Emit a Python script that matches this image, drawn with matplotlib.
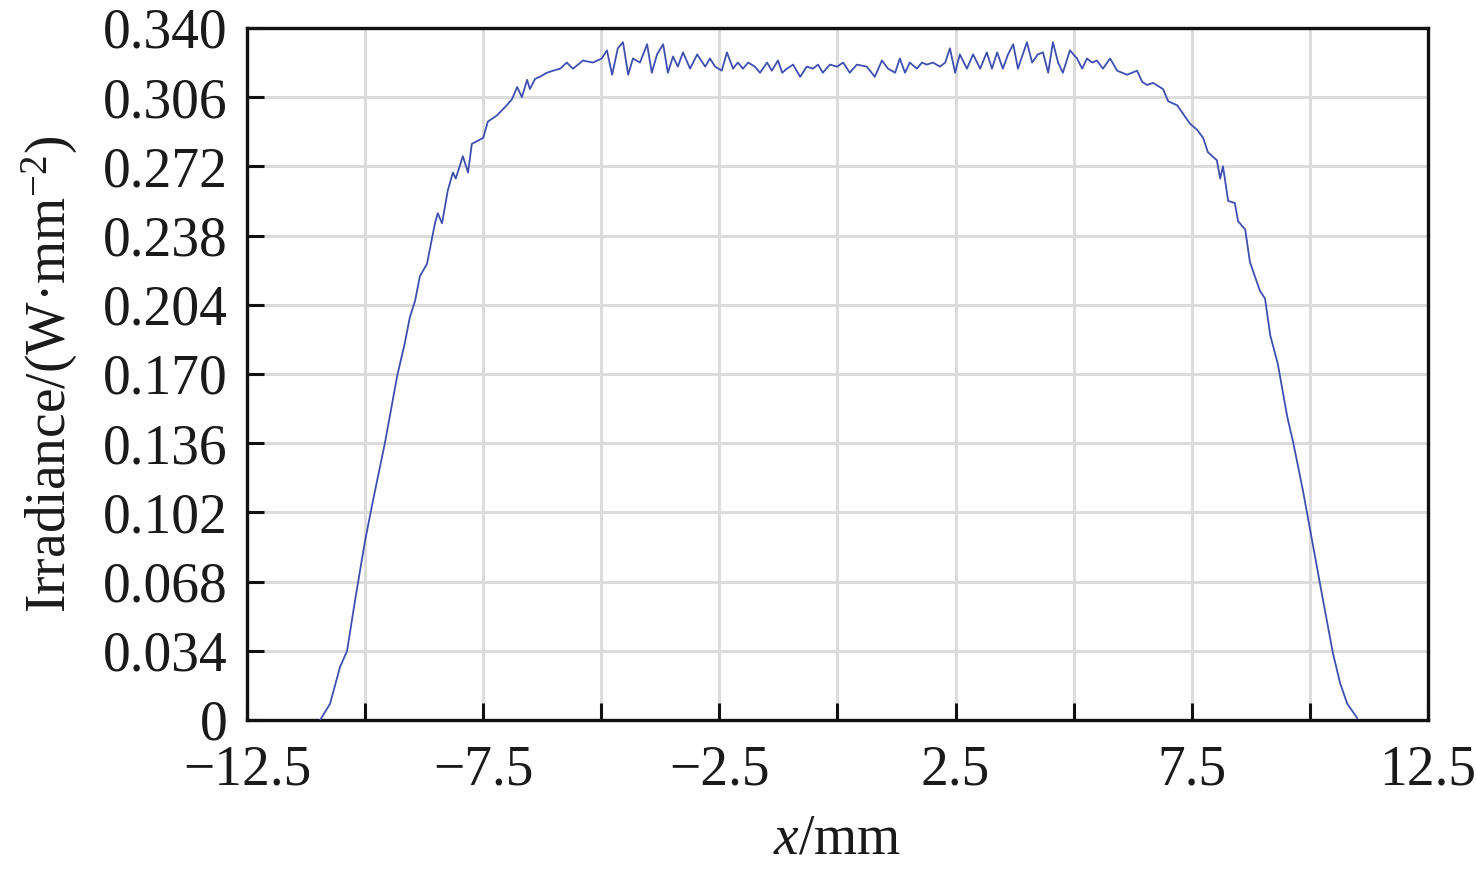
import matplotlib
matplotlib.use("Agg")
import matplotlib.pyplot as plt

# Data
x_mm = [-10.95, -10.74, -10.53, -10.38, -10.21, -10.00, -9.83, -9.58, -9.32, -9.16,
        -9.05, -8.94, -8.84, -8.69, -8.52, -8.46, -8.37, -8.25, -8.14, -8.08,
        -7.93, -7.82, -7.74, -7.50, -7.40, -7.21, -7.00, -6.89, -6.78, -6.68,
        -6.57, -6.51, -6.40, -6.30, -6.15, -6.02, -5.87, -5.73, -5.60, -5.49,
        -5.39, -5.18, -4.99, -4.88, -4.77, -4.65, -4.54, -4.43, -4.33, -4.18,
        -4.03, -3.93, -3.82, -3.69, -3.59, -3.48, -3.38, -3.27, -3.12, -2.97,
        -2.80, -2.70, -2.59, -2.45, -2.34, -2.21, -2.11, -2.00, -1.89, -1.75,
        -1.64, -1.49, -1.39, -1.26, -1.17, -1.07, -0.94, -0.79, -0.65, -0.52,
        -0.41, -0.31, -0.16, -0.01, 0.12, 0.26, 0.41, 0.62, 0.79, 0.94,
        1.07, 1.22, 1.32, 1.43, 1.53, 1.68, 1.79, 1.89, 2.02, 2.17,
        2.28, 2.38, 2.49, 2.59, 2.74, 2.87, 3.02, 3.16, 3.27, 3.38,
        3.50, 3.61, 3.72, 3.82, 4.01, 4.12, 4.24, 4.35, 4.46, 4.56,
        4.67, 4.77, 4.92, 5.07, 5.18, 5.28, 5.39, 5.49, 5.62, 5.77,
        5.92, 6.13, 6.34, 6.45, 6.55, 6.68, 6.89, 7.00, 7.19, 7.46,
        7.61, 7.74, 7.84, 8.03, 8.10, 8.16, 8.27, 8.41, 8.48, 8.63,
        8.73, 8.94, 9.05, 9.16, 9.32, 9.52, 9.64, 9.85, 10.07, 10.28,
        10.49, 10.64, 10.79, 11.00]
irradiance = [0.000, 0.008, 0.026, 0.034, 0.059, 0.088, 0.108, 0.136, 0.169, 0.185,
              0.198, 0.206, 0.218, 0.224, 0.244, 0.249, 0.244, 0.260, 0.269, 0.266,
              0.277, 0.269, 0.283, 0.286, 0.294, 0.297, 0.302, 0.305, 0.311, 0.306,
              0.3145, 0.310, 0.315, 0.316, 0.318, 0.319, 0.320, 0.323, 0.320, 0.322,
              0.324, 0.323, 0.325, 0.329, 0.317, 0.330, 0.333, 0.317, 0.325, 0.323,
              0.332, 0.318, 0.327, 0.332, 0.318, 0.326, 0.321, 0.328, 0.320, 0.327,
              0.321, 0.325, 0.321, 0.319, 0.328, 0.320, 0.323, 0.320, 0.323, 0.321,
              0.318, 0.323, 0.319, 0.324, 0.318, 0.320, 0.322, 0.316, 0.321, 0.320,
              0.322, 0.318, 0.322, 0.321, 0.323, 0.318, 0.322, 0.321, 0.316, 0.324,
              0.320, 0.318, 0.325, 0.318, 0.323, 0.320, 0.323, 0.322, 0.323, 0.321,
              0.323, 0.330, 0.318, 0.327, 0.320, 0.327, 0.320, 0.328, 0.320, 0.328,
              0.320, 0.327, 0.332, 0.320, 0.333, 0.323, 0.327, 0.328, 0.318, 0.333,
              0.323, 0.318, 0.329, 0.325, 0.320, 0.325, 0.323, 0.324, 0.320, 0.325,
              0.319, 0.317, 0.319, 0.3135, 0.312, 0.313, 0.310, 0.304, 0.302, 0.293,
              0.290, 0.286, 0.279, 0.275, 0.266, 0.272, 0.255, 0.254, 0.245, 0.241,
              0.225, 0.211, 0.207, 0.189, 0.175, 0.149, 0.137, 0.113, 0.085, 0.0585,
              0.0325, 0.018, 0.008, 0.001]

x_ticks = [-12.5, -10, -7.5, -5, -2.5, 0, 2.5, 5, 7.5, 10, 12.5]
x_tick_labels = ["\u221212.5", "", "\u22127.5", "", "\u22122.5", "", "2.5", "", "7.5", "", "12.5"]
y_ticks = [0, 0.034, 0.068, 0.102, 0.136, 0.170, 0.204, 0.238, 0.272, 0.306, 0.340]
y_tick_labels = ["0", "0.034", "0.068", "0.102", "0.136", "0.170", "0.204", "0.238",
                 "0.272", "0.306", "0.340"]

plt.rcParams["font.family"] = ["Liberation Serif", "DejaVu Serif"]
plt.rcParams["mathtext.fontset"] = "custom"
plt.rcParams["mathtext.rm"] = "Liberation Serif"
plt.rcParams["mathtext.it"] = "Liberation Serif:italic"

fig = plt.figure(figsize=(14.76, 8.71), dpi=100)
ax = fig.add_axes([0.1673, 0.1734, 0.8002, 0.7945])

ax.plot(x_mm, irradiance, color="#3f4fb0", lw=1.3, zorder=3)

ax.set_xlim(-12.5, 12.5)
ax.set_ylim(0, 0.340)
ax.set_xticks(x_ticks)
ax.set_xticklabels(x_tick_labels)
ax.set_yticks(y_ticks)
ax.set_yticklabels(y_tick_labels)

ax.grid(True, color="#dcdcdc", lw=2.2, zorder=0)
ax.set_axisbelow(True)
for s in ax.spines.values():
    s.set_linewidth(2.4)
    s.set_color("#111111")

ax.tick_params(axis="both", direction="in", width=2.2, length=12, labelsize=40,
               colors="#111111", labelcolor="#1a1a1a")
ax.tick_params(axis="x", pad=18)
ax.tick_params(axis="y", pad=14)

ax.set_xlabel("$x$/mm", fontsize=40, labelpad=12, color="#1a1a1a")
ax.set_ylabel("Irradiance/(W\u00b7mm$^{\u2212 2}$)", fontsize=40, labelpad=16, color="#1a1a1a")

fig.savefig("out.png", dpi=100)
